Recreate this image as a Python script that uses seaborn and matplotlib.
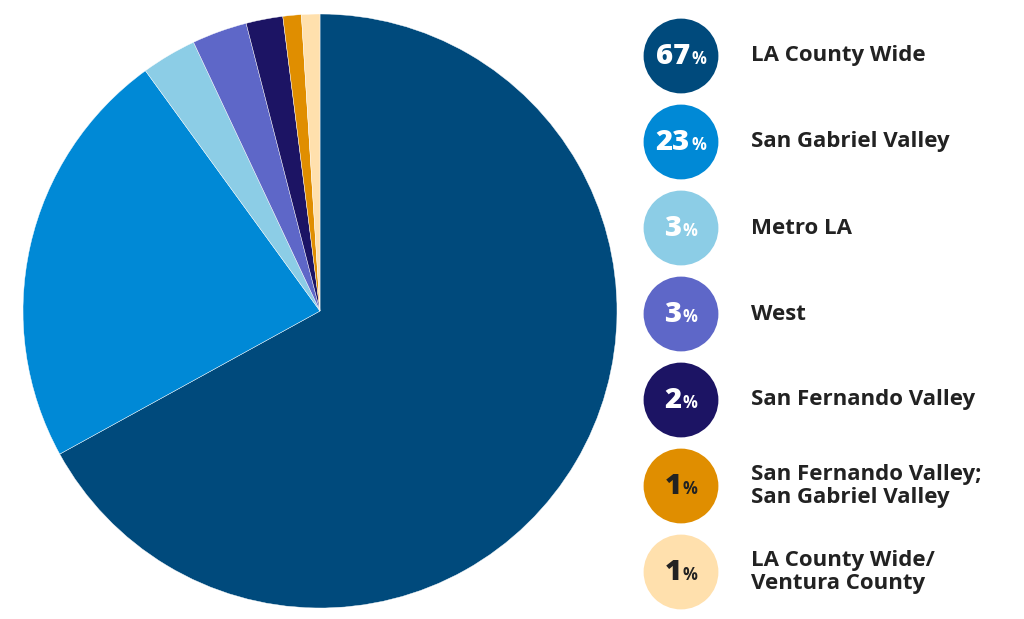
import matplotlib
matplotlib.use("Agg")
import matplotlib.pyplot as plt
from matplotlib.offsetbox import TextArea, HPacker, AnnotationBbox
import seaborn as sns

# data
regions = ["LA County Wide", "San Gabriel Valley", "Metro LA", "West",
           "San Fernando Valley", "San Fernando Valley;\nSan Gabriel Valley",
           "LA County Wide/\nVentura County"]
shares = [67, 23, 3, 3, 2, 1, 1]
hex_colors = ["#004a7c", "#0089d6", "#8ccde6", "#5e67c8",
              "#1c1464", "#e08e00", "#ffe0ad"]
num_colors = ["white", "white", "white", "white", "white", "#222222", "#222222"]

sns.set_theme(style="white")
plt.rcParams["font.family"] = ["Open Sans", "DejaVu Sans"]
palette = sns.color_palette(hex_colors)

fig = plt.figure(figsize=(10.24, 6.19), dpi=100)

# pie
ax = fig.add_axes([23 / 1024, 11 / 619, 594 / 1024, 594 / 619])
ax.pie(shares, colors=palette, startangle=90, counterclock=False,
       wedgeprops=dict(edgecolor="white", linewidth=0.3))
ax.set_xlim(-1, 1)
ax.set_ylim(-1, 1)
ax.set_aspect("equal")
ax.axis("off")

# legend with numbered circles
lg = fig.add_axes([630 / 1024, 4 / 619, 394 / 1024, 602 / 619])
lg.set_xlim(0, 394)
lg.set_ylim(len(regions) - 0.5, -0.5)
lg.axis("off")
ys = list(range(len(regions)))
sns.scatterplot(x=[51] * len(regions), y=ys, hue=regions, palette=palette,
                s=2900, linewidth=0, legend=False, ax=lg)

for i, (name, val) in enumerate(zip(regions, shares)):
    num = TextArea(str(val), textprops=dict(color=num_colors[i], fontsize=21,
                                            fontweight=800))
    pct = TextArea("%", textprops=dict(color=num_colors[i], fontsize=12,
                                       fontweight="bold"))
    box = HPacker(children=[num, pct], align="baseline", pad=0, sep=1)
    ab = AnnotationBbox(box, (51, i), xybox=(51, i), frameon=False,
                        box_alignment=(0.5, 0.5), xycoords="data")
    lg.add_artist(ab)
    lg.text(121, i, name, fontsize=16, fontweight="bold", color="#222222",
            va="center", ha="left", linespacing=1.15)

fig.savefig("out.png", dpi=100)
